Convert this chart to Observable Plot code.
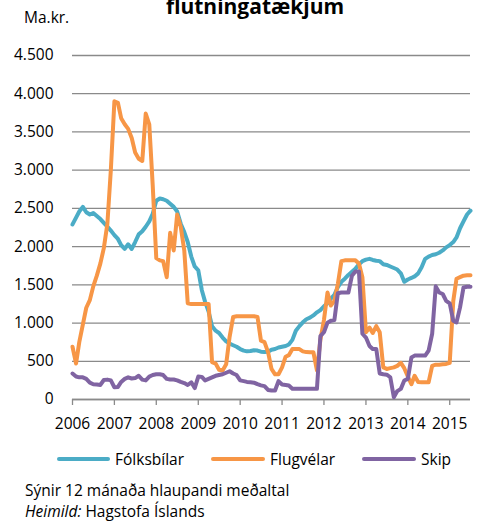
<!DOCTYPE html>
<html>
<head>
<meta charset="utf-8">
<script src="https://cdn.jsdelivr.net/npm/d3@7"></script>
<script src="https://cdn.jsdelivr.net/npm/@observablehq/plot@0.6"></script>
<style>
  body { margin: 0; background: #fff; }
  #wrap { position: relative; width: 480px; height: 524px; overflow: hidden; font-family: "Open Sans", sans-serif; color: #000; }
  #wrap svg { position: absolute; left: 0; top: 0; }
  .t { position: absolute; white-space: nowrap; font-size: 15.5px; line-height: 16px; }
  #title { font-weight: bold; font-size: 21px; line-height: 22px; top: -5px; left: 255px; transform: translateX(-50%); }
  .sw { position: absolute; height: 4px; border-radius: 2px; }
</style>
</head>
<body>
<div id="wrap"></div>
<script>
// ---- data (monthly, Jan 2006 .. Jul 2015), millions ISK, 12-month running average ----
const startYear = 2006;
const seriesNames = ["Fólksbílar", "Flugvélar", "Skip"];
const seriesColors = ["#4BACC6", "#F79646", "#8064A2"];
const yTicks = [0, 500, 1000, 1500, 2000, 2500, 3000, 3500, 4000, 4500];
const xTickYears = [2006, 2007, 2008, 2009, 2010, 2011, 2012, 2013, 2014, 2015];

const folksbilar = [
  2290, 2380, 2460, 2520, 2450, 2420, 2440, 2400, 2360, 2310, 2260, 2210,
  2150, 2100, 2020, 1970, 2030, 1970, 2060, 2160, 2200, 2260, 2330, 2430,
  2600, 2630, 2620, 2600, 2560, 2520, 2460, 2300, 2190, 2060, 1870, 1740,
  1690, 1430, 1280, 1150, 960, 900, 870, 810, 760, 730, 710, 690,
  660, 640, 630, 635, 645, 640, 625, 620, 625, 650, 660, 680,
  690, 700, 720, 780, 900, 960, 1010, 1050, 1070, 1100, 1140, 1170,
  1220, 1260, 1320, 1370, 1470, 1540, 1580, 1630, 1670, 1710, 1770, 1810,
  1830, 1840, 1825, 1815, 1810, 1770, 1760, 1740, 1720, 1700, 1650, 1540,
  1570, 1590, 1610, 1650, 1730, 1840, 1870, 1890, 1900, 1920, 1950, 1990,
  2020, 2060, 2120, 2240, 2330, 2420, 2470
];
const flugvelar = [
  690, 470, 750, 980, 1200, 1300, 1480, 1620, 1780, 1980, 2300, 3000,
  3900, 3880, 3680, 3600, 3540, 3420, 3230, 3150, 3120, 3740, 3600, 2800,
  1850, 1820, 1810, 1600, 2180, 1950, 2420, 2260, 1950, 1260, 1250, 1250,
  1250, 1250, 1250, 1250, 490, 470, 390, 380, 460, 820, 1080, 1090,
  1090, 1090, 1090, 1090, 1090, 1080, 770, 750, 620, 400, 330, 330,
  420, 560, 580, 660, 660, 660, 630, 620, 618, 618, 380, 780,
  1040, 1400, 1230, 1290, 1510, 1810, 1820, 1820, 1820, 1820, 1780, 1600,
  880, 940, 870, 960, 880, 420, 400, 410, 420, 440, 480, 410,
  300, 200, 310, 230, 226, 226, 226, 440, 455, 455, 460, 465,
  480, 1290, 1580, 1600, 1620, 1625, 1625
];
const skip = [
  340, 300, 290, 290, 270, 220, 200, 195, 190, 255, 260, 250,
  160, 165, 230, 270, 290, 275, 280, 310, 260, 250, 300, 320,
  330, 330, 320, 270, 261, 261, 250, 230, 215, 190, 225, 150,
  300, 296, 250, 270, 290, 310, 320, 330, 350, 370, 340, 320,
  250, 240, 230, 225, 220, 200, 185, 175, 125, 117, 117, 240,
  196, 190, 183, 140, 139, 139, 139, 139, 139, 139, 140, 830,
  880, 1005, 1030, 1040, 1390, 1400, 1400, 1400, 1620, 1675, 1675, 860,
  810, 700, 660, 660, 340, 330, 325, 291, 30, 110, 139, 248,
  270, 550, 574, 574, 574, 574, 640, 860, 1480, 1400, 1380, 1290,
  1257, 1030, 1009, 1205, 1466, 1475, 1475
];

const title = "flutningatækjum";
const yUnit = "Ma.kr.";
const note = "Sýnir 12 mánaða hlaupandi meðaltal";
const sourceLabel = "Heimild:";
const sourceText = " Hagstofa Íslands";

// ---- build table ----
const months = folksbilar.map((_, i) => new Date(Date.UTC(startYear, i, 1)));
const rows = [];
[folksbilar, flugvelar, skip].forEach((arr, k) =>
  arr.forEach((v, i) => rows.push({ date: months[i], value: v, series: seriesNames[k] }))
);
const fmt = d => d3.format(",")(d).replace(/,/g, ".");

const chart = Plot.plot({
  width: 480,
  height: 440,
  marginTop: 55,
  marginBottom: 41,
  marginLeft: 72,
  marginRight: 10,
  style: { fontFamily: "Open Sans", fontSize: "15.5px", color: "#000", background: "transparent" },
  x: { type: "utc", domain: [months[0], months[months.length - 1]] },
  y: { domain: [0, 4500] },
  color: { domain: seriesNames, range: seriesColors },
  marks: [
    Plot.gridY(yTicks, { stroke: "#8a8a8a", strokeOpacity: 1, strokeWidth: 1.3 }),
    Plot.axisY(yTicks, { tickSize: 0, tickPadding: 19, tickFormat: fmt, label: null, fill: "#000" }),
    Plot.axisX(xTickYears.map(y => new Date(Date.UTC(y, 0, 1))), {
      tickSize: 6, tickPadding: 12.5, tickFormat: d => String(d.getUTCFullYear()),
      label: null, stroke: "#8a8a8a", strokeWidth: 1.3, fill: "#000"
    }),
    Plot.ruleY([0], { stroke: "#8a8a8a", strokeWidth: 1.3 }),
    Plot.lineY(rows, { x: "date", y: "value", z: "series", stroke: "series", strokeWidth: 4, strokeLinejoin: "round", strokeLinecap: "round" })
  ]
});

const wrap = document.getElementById("wrap");
wrap.appendChild(chart);

function addText(html, left, top) {
  const d = document.createElement("div");
  d.className = "t";
  d.innerHTML = html;
  d.style.left = left + "px";
  d.style.top = top + "px";
  wrap.appendChild(d);
  return d;
}
const t = document.createElement("div");
t.className = "t";
t.id = "title";
t.textContent = title;
wrap.appendChild(t);

addText(yUnit, 24, 9);

// legend
const legendPos = [[57, 115], [211, 270], [362, 421]];
seriesNames.forEach((name, i) => {
  const s = document.createElement("div");
  s.className = "sw";
  s.style.left = legendPos[i][0] + "px";
  s.style.width = (legendPos[i][1] - 5 - legendPos[i][0]) + "px";
  s.style.top = "457px";
  s.style.background = seriesColors[i];
  wrap.appendChild(s);
  addText(name, legendPos[i][1], 451);
});

addText(note, 25, 482);
addText("<i>" + sourceLabel + "</i>" + sourceText, 25, 503);
</script>
</body>
</html>
